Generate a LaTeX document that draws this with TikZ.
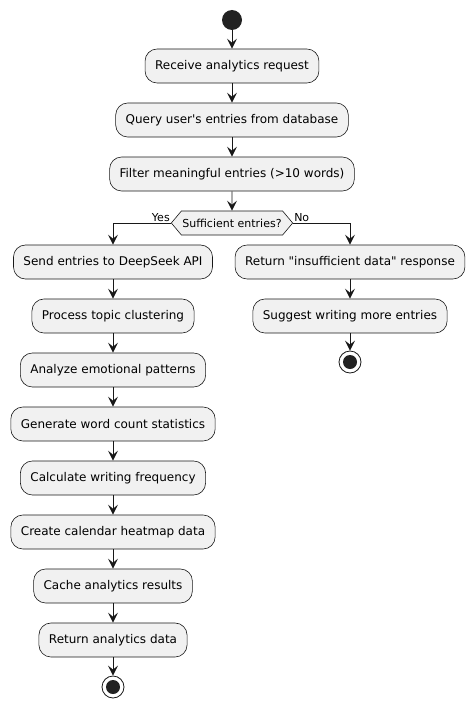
\documentclass[tikz,border=0pt]{standalone}
\usepackage{fontspec}
\setmainfont{DejaVu Sans}
\usepackage{xcolor}
\usetikzlibrary{arrows.meta,shapes.symbols}

\definecolor{actfill}{HTML}{F1F1F1}
\definecolor{actline}{HTML}{181818}
\definecolor{dotfill}{HTML}{222222}

\tikzset{
  act/.style={draw=actline, fill=actfill, rounded corners=12pt, minimum height=34pt,
    inner xsep=10pt, line width=0.6pt, font=\fontsize{12}{14}\selectfont},
  decide/.style={draw=actline, fill=actfill, shape=signal, signal to=west and east,
    signal pointer angle=100, minimum height=24pt, inner xsep=1pt, inner ysep=2pt,
    line width=0.6pt, font=\fontsize{11}{13}\selectfont},
  flow/.style={-{Stealth[length=10pt,width=10pt,inset=4pt]}, draw=actline, line width=0.9pt},
  startdot/.style={circle, fill=dotfill, minimum size=20pt, inner sep=0pt},
  enddot/.style={circle, draw=actline, fill=white, minimum size=22pt, inner sep=0pt,
    line width=0.8pt, path picture={\fill[dotfill] (path picture bounding box.center) circle (7pt);}},
  branch/.style={inner sep=1pt, font=\fontsize{11}{13}\selectfont}
}

\begin{document}
\begin{tikzpicture}[x=1pt, y=-1pt]
\useasboundingbox (0,0) rectangle (476,709);

% Main line
\node[startdot] (start) at (232,20) {};
\node[act] (recv) at (232,66) {Receive analytics request};
\node[act] (query) at (232,120) {Query user\textquotesingle s entries from database};
\node[act] (filter) at (232,174) {Filter meaningful entries (>10 words)};
\node[decide] (enough) at (232,223) {Sufficient entries?};

\draw[flow] (start) -- (recv);
\draw[flow] (recv) -- (query);
\draw[flow] (query) -- (filter);
\draw[flow] (filter) -- (enough);

% Yes branch
\node[act] (api) at (113,262) {Send entries to DeepSeek API};
\node[act] (cluster) at (113,316) {Process topic clustering};
\node[act] (emotion) at (113,370) {Analyze emotional patterns};
\node[act] (count) at (113,424) {Generate word count statistics};
\node[act] (freq) at (113,478) {Calculate writing frequency};
\node[act] (heatmap) at (113,532) {Create calendar heatmap data};
\node[act] (cache) at (113,586) {Cache analytics results};
\node[act] (result) at (113,640) {Return analytics data};
\node[enddot] (stopA) at (113,687) {};

\draw[flow] (enough.west) -| (api.north);
\node[branch, anchor=south east] (yes) at (enough.west) {Yes};
\draw[flow] (api) -- (cluster);
\draw[flow] (cluster) -- (emotion);
\draw[flow] (emotion) -- (count);
\draw[flow] (count) -- (freq);
\draw[flow] (freq) -- (heatmap);
\draw[flow] (heatmap) -- (cache);
\draw[flow] (cache) -- (result);
\draw[flow] (result) -- (stopA);

% No branch
\node[act] (short) at (350,262) {Return \textquotedbl insufficient data\textquotedbl{} response};
\node[act] (suggest) at (350,316) {Suggest writing more entries};
\node[enddot] (stopB) at (350,362) {};

\draw[flow] (enough.east) -| (short.north);
\node[branch, anchor=south west] (no) at (enough.east) {No};
\draw[flow] (short) -- (suggest);
\draw[flow] (suggest) -- (stopB);
\end{tikzpicture}
\end{document}
